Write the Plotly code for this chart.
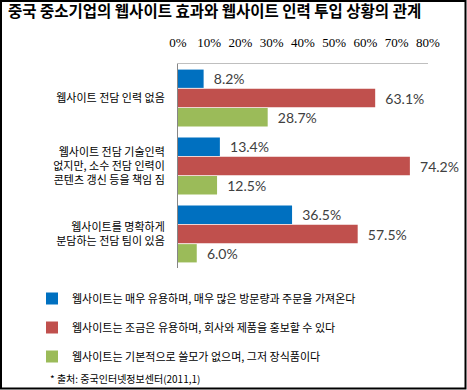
import plotly.graph_objects as go

categories = [
    "웹사이트 전담 인력 없음",
    "웹사이트 전담 기술인력<br>없지만, 소수 전담 인력이<br>콘텐츠 갱신 등을 책임 짐",
    "웹사이트를 명확하게<br>분담하는 전담 팀이 있음",
]
series_names = [
    "웹사이트는 매우 유용하며, 매우 많은 방문량과 주문을 가져온다",
    "웹사이트는 조금은 유용하며, 회사와 제품을 홍보할 수 있다",
    "웹사이트는 기본적으로 쓸모가 없으며, 그저 장식품이다",
]
very_useful = [8.2, 13.4, 36.5]
somewhat_useful = [63.1, 74.2, 57.5]
useless = [28.7, 12.5, 6.0]
x_ticks = [0, 10, 20, 30, 40, 50, 60, 70, 80]
x_tick_labels = ["0%", "10%", "20%", "30%", "40%", "50%", "60%", "70%", "80%"]

colors = ["#0070C0", "#C0504D", "#9BBB59"]
W, H = 467, 390
L, R, T, B = 178, 428, 64, 268

fig = go.Figure()
for name, vals, col in zip(series_names, [very_useful, somewhat_useful, useless], colors):
    fig.add_trace(go.Bar(
        y=categories, x=vals, orientation="h", name=name,
        marker=dict(color=col, line=dict(width=0)),
        text=[f"\u00a0\u00a0{v:.1f}%" for v in vals],
        textposition="outside", cliponaxis=False,
        textfont=dict(family="Lato, Liberation Sans", size=14, color="#404040"),
        legendgroup=name,
    ))

def px(x):
    return (x - L) / (R - L)

def py(y):
    return (B - y) / (B - T)

fig.update_layout(
    width=W, height=H,
    margin=dict(l=L, r=W - R, t=T, b=H - B, pad=0),
    paper_bgcolor="white", plot_bgcolor="white",
    barmode="group", bargap=0.15, bargroupgap=0.05,
    font=dict(family="Noto Sans CJK KR", size=11, color="#000000"),
    title=dict(
        text="<b>중국 중소기업의 웹사이트 효과와 웹사이트 인력 투입 상황의 관계</b>",
        font=dict(family="Noto Sans CJK KR", size=15.5, color="#000000"),
        x=8 / W, xref="container", xanchor="left",
        y=1 - 12 / H, yref="container", yanchor="middle",
    ),
    xaxis=dict(
        range=[0, 80], side="top", tickvals=x_ticks, ticktext=x_tick_labels,
        showgrid=False, zeroline=False, showline=True, linecolor="#BFBFBF", linewidth=1,
        ticks="", ticklabelstandoff=11,
        tickfont=dict(family="Liberation Serif", size=13, color="#000000"),
    ),
    yaxis=dict(
        autorange="reversed", showgrid=False, zeroline=False,
        showline=True, linecolor="#868686", linewidth=1, ticks="",
        ticklabelstandoff=10,
        tickfont=dict(family="Noto Sans CJK KR", size=11, color="#000000"),
    ),
    legend=dict(
        x=px(32), xanchor="left", y=py(284), yanchor="top",
        traceorder="grouped", tracegroupgap=10,
        font=dict(family="Noto Sans CJK KR", size=11, color="#000000"),
        bgcolor="rgba(0,0,0,0)",
    ),
    showlegend=True,
    annotations=[dict(
        text="* 출처: 중국인터넷정보센터(2011,1)",
        xref="paper", yref="paper", x=px(48), y=py(378),
        xanchor="left", yanchor="middle", showarrow=False,
        font=dict(family="Noto Sans CJK KR", size=10, color="#000000"),
    )],
    shapes=[dict(
        type="rect", xref="paper", yref="paper",
        x0=px(1), x1=px(465.5), y0=py(388.5), y1=py(1),
        line=dict(color="#000000", width=2), fillcolor="rgba(0,0,0,0)", layer="below",
    )],
)

fig.write_html("out.html", config={"displayModeBar": False},
               post_script="document.body.style.margin='0';")
